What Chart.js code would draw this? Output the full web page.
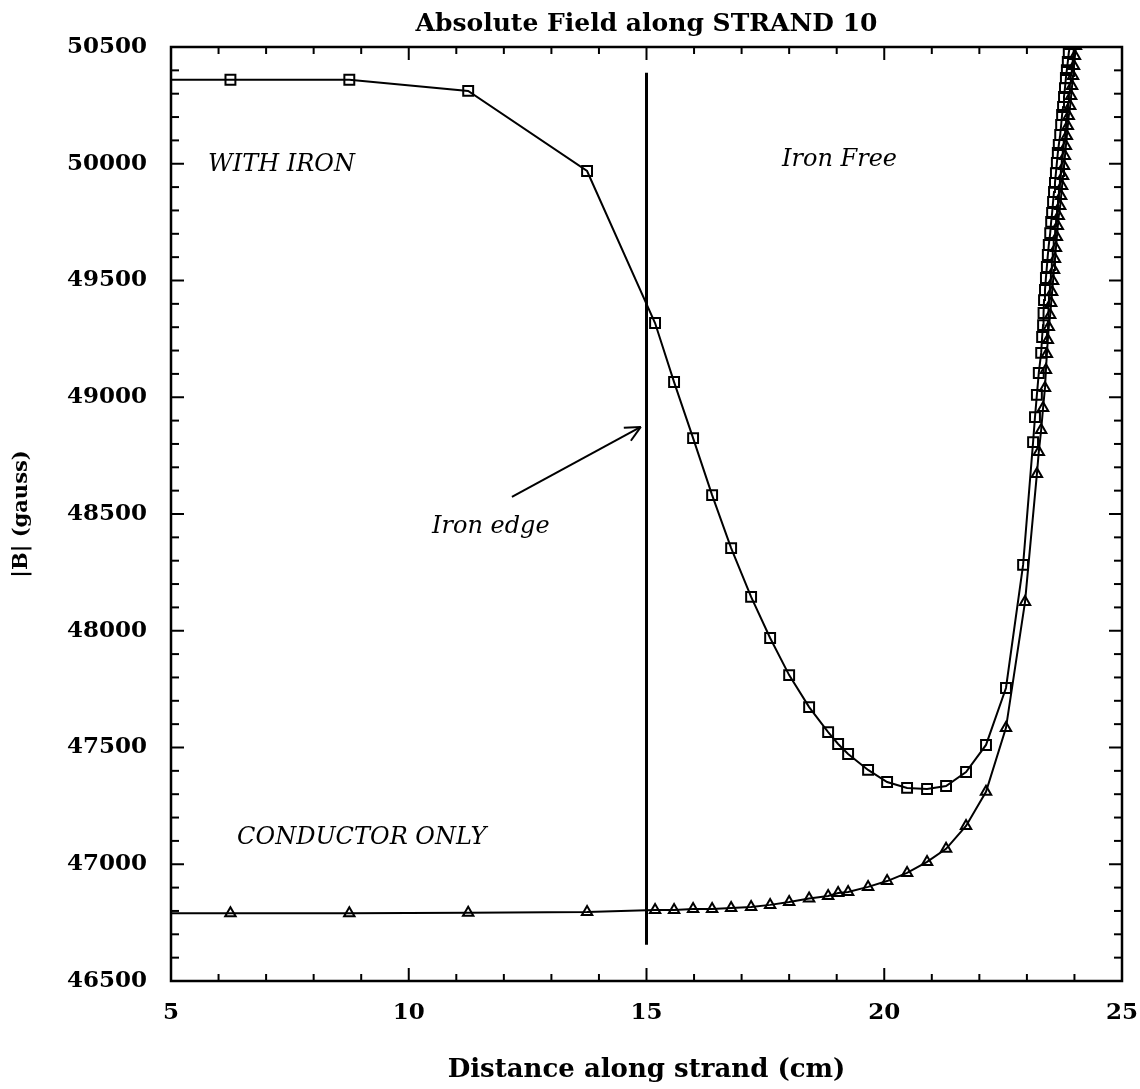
<!DOCTYPE html>
<html>
<head>
<meta charset="utf-8">
<title>Absolute Field along STRAND 10</title>
<script src="https://cdn.jsdelivr.net/npm/chart.js@4.4.1/dist/chart.umd.min.js"></script>
<style>
  html, body { margin: 0; padding: 0; background: #fff; }
  #wrap { width: 1140px; height: 1089px; }
</style>
</head>
<body>
<div id="wrap"><canvas id="fieldChart" width="1140" height="1089"></canvas></div>
<script>
// distance along strand (cm) and |B| (gauss)
const distIron = [5, 6.25, 8.75, 11.25, 13.75, 15.18, 15.58, 15.98, 16.38, 16.78, 17.2, 17.6, 18.0, 18.42, 18.82,
    19.03, 19.24, 19.66, 20.06, 20.48, 20.9, 21.3, 21.72, 22.14, 22.56, 22.92, 23.13, 23.17, 23.21, 23.25,
    23.30, 23.32, 23.34, 23.35, 23.36, 23.38, 23.40, 23.42, 23.44, 23.46, 23.49, 23.51, 23.53, 23.55, 23.57,
    23.59, 23.61, 23.63, 23.65, 23.67, 23.70, 23.72, 23.74, 23.76, 23.78, 23.80, 23.82, 23.84, 23.86, 23.88, 23.91];
const fieldIron = [50360, 50360, 50360, 50312, 49969, 49318, 49065, 48825, 48581, 48354, 48145, 47969, 47810, 47673, 47566,
    47515, 47472, 47404, 47352, 47327, 47322, 47335, 47395, 47511, 47755, 48282, 48808, 48915, 49010, 49104,
    49190, 49258, 49309, 49361, 49416, 49459, 49511, 49558, 49609, 49652, 49703, 49751, 49789, 49836, 49879,
    49918, 49960, 50003, 50046, 50080, 50123, 50166, 50209, 50243, 50286, 50324, 50367, 50401, 50436, 50474, 50513];

const distCond = [5, 6.25, 8.75, 11.25, 13.75, 15.18, 15.58, 15.98, 16.38, 16.78, 17.2, 17.6, 18.0, 18.42, 18.82,
    19.03, 19.24, 19.66, 20.06, 20.48, 20.9, 21.3, 21.72, 22.14, 22.56, 22.96, 23.21, 23.25, 23.30, 23.34,
    23.38, 23.40, 23.42, 23.44, 23.46, 23.49, 23.51, 23.53, 23.55, 23.57, 23.59, 23.61, 23.63, 23.65, 23.67,
    23.70, 23.72, 23.74, 23.76, 23.78, 23.80, 23.82, 23.84, 23.86, 23.88, 23.91, 23.93, 23.95, 23.97, 23.99, 24.01, 24.03];
const fieldCond = [46790, 46790, 46790, 46792, 46795, 46804, 46804, 46808, 46808, 46813, 46817, 46826, 46838, 46853, 46864,
    46877, 46881, 46903, 46928, 46963, 47010, 47066, 47164, 47310, 47584, 48123, 48671, 48766, 48860, 48954,
    49040, 49117, 49185, 49245, 49301, 49352, 49404, 49451, 49498, 49545, 49592, 49639, 49686, 49733, 49776,
    49819, 49862, 49905, 49948, 49990, 50033, 50076, 50119, 50162, 50204, 50247, 50290, 50333, 50376, 50419, 50461, 50504];

// iron edge marker and the arrow pointing at it
const edgeX = [15, 15];
const edgeY = [46655, 50390];
const arrowX = [12.17, 14.88];
const arrowY = [48573, 48873];

const xTicks = [5, 10, 15, 20, 25];
const yTicks = [46500, 47000, 47500, 48000, 48500, 49000, 49500, 50000, 50500];

const notes = [
    { text: "WITH IRON", x: 5.78, y: 49995 },
    { text: "Iron Free", x: 17.85, y: 50016 },
    { text: "Iron edge", x: 10.49, y: 48444 },
    { text: "CONDUCTOR ONLY", x: 6.39, y: 47112 },
];

const toPts = (xs, ys) => xs.map((x, i) => ({ x: x, y: ys[i] }));

Chart.defaults.font.family = "'DejaVu Serif', serif";
Chart.defaults.color = "#000";

// box, inward ticks on all four sides, arrow head and the text notes
const framePlugin = {
    id: "frame",
    afterDatasetsDraw(chart) {
        const { ctx, chartArea: a, scales } = chart;
        const sx = scales.x, sy = scales.y;
        const seg = (x1, y1, x2, y2) => {
            ctx.beginPath();
            ctx.moveTo(x1, y1);
            ctx.lineTo(x2, y2);
            ctx.stroke();
        };
        ctx.save();
        ctx.strokeStyle = "#000";
        ctx.lineWidth = 2;
        for (let v = xTicks[0]; v <= xTicks[xTicks.length - 1]; v += 1) {
            const len = xTicks.includes(v) ? 13 : 7;
            const px = sx.getPixelForValue(v);
            seg(px, a.bottom, px, a.bottom - len);
            seg(px, a.top, px, a.top + len);
        }
        for (let v = yTicks[0]; v <= yTicks[yTicks.length - 1]; v += 100) {
            const len = yTicks.includes(v) ? 13 : 8;
            const py = sy.getPixelForValue(v);
            seg(a.left, py, a.left + len, py);
            seg(a.right, py, a.right - len, py);
        }
        ctx.lineWidth = 2.5;
        ctx.strokeRect(a.left, a.top, a.right - a.left, a.bottom - a.top);

        // arrow head
        const x0 = sx.getPixelForValue(arrowX[0]), y0 = sy.getPixelForValue(arrowY[0]);
        const x1 = sx.getPixelForValue(arrowX[1]), y1 = sy.getPixelForValue(arrowY[1]);
        const ang = Math.atan2(y1 - y0, x1 - x0);
        ctx.lineWidth = 2;
        seg(x1, y1, x1 - 17 * Math.cos(ang - 0.45), y1 - 17 * Math.sin(ang - 0.45));
        seg(x1, y1, x1 - 17 * Math.cos(ang + 0.45), y1 - 17 * Math.sin(ang + 0.45));

        ctx.fillStyle = "#000";
        ctx.font = "italic 24px 'DejaVu Serif', serif";
        ctx.textAlign = "left";
        ctx.textBaseline = "middle";
        notes.forEach((n) => {
            ctx.fillText(n.text, sx.getPixelForValue(n.x), sy.getPixelForValue(n.y));
        });
        ctx.restore();
    },
};

const ctx = document.getElementById("fieldChart").getContext("2d");
new Chart(ctx, {
    type: "scatter",
    data: {
        datasets: [
            {
                label: "With iron",
                data: toPts(distIron, fieldIron),
                showLine: true,
                tension: 0,
                borderColor: "#000",
                borderWidth: 2,
                pointStyle: "rect",
                pointRadius: (c) => (c.dataIndex === 0 ? 0 : 7),
                pointBorderWidth: 2,
                pointBorderColor: "#000",
                pointBackgroundColor: "rgba(0,0,0,0)",
            },
            {
                label: "Conductor only",
                data: toPts(distCond, fieldCond),
                showLine: true,
                tension: 0,
                borderColor: "#000",
                borderWidth: 2,
                pointStyle: "triangle",
                pointRadius: (c) => (c.dataIndex === 0 ? 0 : 6),
                pointBorderWidth: 2,
                pointBorderColor: "#000",
                pointBackgroundColor: "rgba(0,0,0,0)",
            },
            {
                label: "Iron edge",
                data: toPts(edgeX, edgeY),
                showLine: true,
                borderColor: "#000",
                borderWidth: 3,
                pointRadius: 0,
            },
            {
                label: "Arrow",
                data: toPts(arrowX, arrowY),
                showLine: true,
                borderColor: "#000",
                borderWidth: 2,
                pointRadius: 0,
            },
        ],
    },
    options: {
        responsive: false,
        animation: false,
        layout: { padding: { left: 0, right: 18, top: 0, bottom: 0 } },
        plugins: {
            legend: { display: false },
            tooltip: { enabled: false },
            title: {
                display: true,
                text: "Absolute Field along STRAND 10",
                fullSize: false,
                font: { size: 25, weight: "bold" },
                padding: { top: 9, bottom: 8 },
                color: "#000",
            },
        },
        scales: {
            x: {
                type: "linear",
                min: 5,
                max: 25,
                afterFit: (s) => {
                    s.height = 108;
                    s.paddingLeft = 0;
                    s.paddingRight = 0;
                },
                afterBuildTicks: (s) => { s.ticks = xTicks.map((v) => ({ value: v })); },
                ticks: { padding: 18, maxRotation: 0, font: { size: 23, weight: "bold" } },
                grid: { display: false, drawTicks: false },
                border: { display: false },
                title: {
                    display: true,
                    text: "Distance along strand (cm)",
                    font: { size: 26, weight: "bold" },
                    padding: { top: 0, bottom: 3 },
                },
            },
            y: {
                type: "linear",
                min: 46500,
                max: 50500,
                afterFit: (s) => { s.width = 171; },
                afterBuildTicks: (s) => { s.ticks = yTicks.map((v) => ({ value: v })); },
                ticks: { padding: 24, font: { size: 23, weight: "bold" }, callback: (v) => String(v) },
                grid: { display: false, drawTicks: false },
                border: { display: false },
                title: {
                    display: true,
                    text: "|B| (gauss)",
                    font: { size: 21, weight: "bold" },
                    padding: { top: 9, bottom: 0 },
                },
            },
        },
    },
    plugins: [framePlugin],
});
</script>
</body>
</html>
